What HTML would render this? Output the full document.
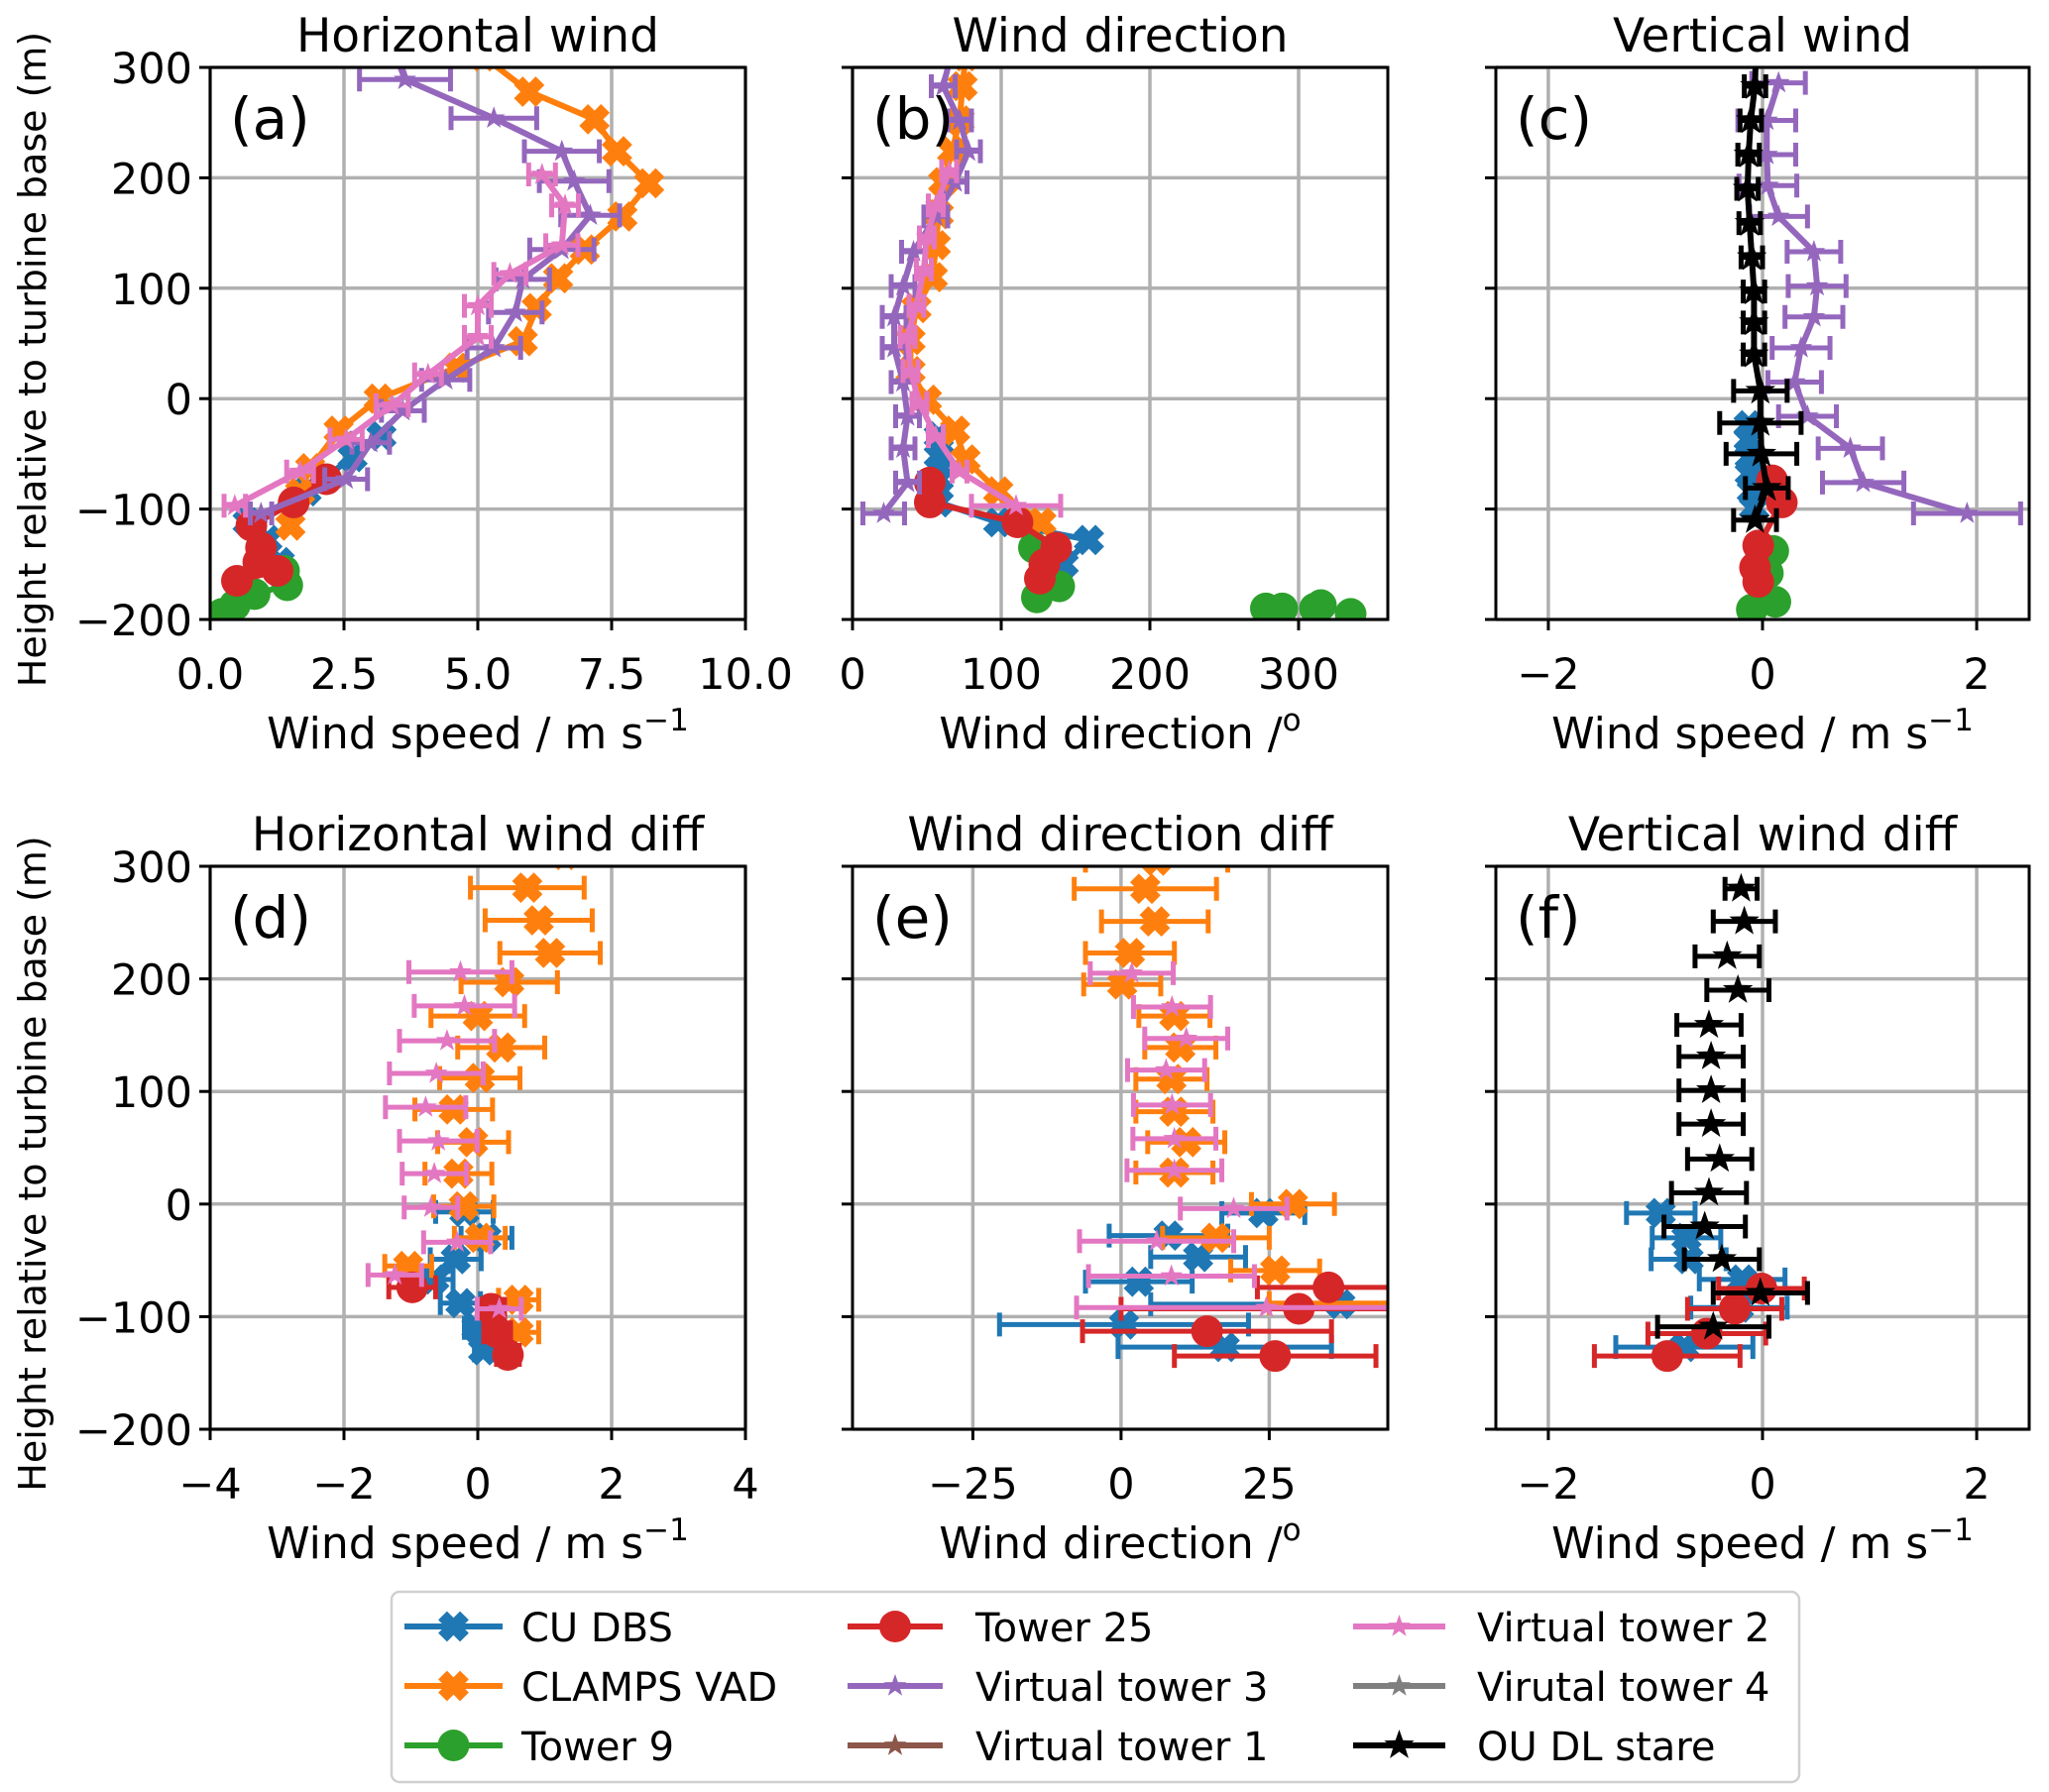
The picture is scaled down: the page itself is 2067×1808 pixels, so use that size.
<!DOCTYPE html>
<html><head><meta charset="utf-8"><style>
body{margin:0;background:#fff}
svg{display:block;font-family:"DejaVu Sans","Liberation Sans",sans-serif}
</style></head><body>
<svg id="fig" width="2067" height="1808" viewBox="0 0 2067 1808" xmlns="http://www.w3.org/2000/svg"></svg>
<script>
// ---------- data (height in m, values in panel units) ----------
const yTicks=[-200,-100,0,100,200,300];
// panel a
const a_cu_y=[-34,-53,-84,-112,-128,-148], a_cu_x=[3.2,2.66,1.8,0.7,1.07,1.3];
const a_cl_y=[310,278,253,224,195,165,135,109,82,52,28,0,-29,-63,-85,-115];
const a_cl_x=[5.1,5.96,7.18,7.6,8.2,7.7,7.0,6.5,6.1,5.84,4.6,3.15,2.4,1.87,1.68,1.5];
const a_t9_y=[-156,-169,-177,-187,-195], a_t9_x=[1.38,1.44,0.83,0.46,0.22];
const a_t25_y=[-73,-94,-115,-135,-148,-156,-165], a_t25_x=[2.17,1.56,0.77,0.95,0.9,1.26,0.5];
const a_vt3_y=[320,289,254,224,197,166,135,108,78,46,17,-11,-40,-73,-104];
const a_vt3_x=[3.4,3.64,5.3,6.57,6.8,7.1,6.57,5.84,5.7,5.3,4.4,3.6,3.0,2.54,0.95];
const a_vt3_e=[0.8,0.85,0.8,0.7,0.65,0.55,0.6,0.5,0.5,0.5,0.45,0.4,0.35,0.4,0.2];
const a_vt2_y=[203,175,139,113,84,56,22,-6,-37,-66,-97];
const a_vt2_x=[6.2,6.63,6.57,5.6,5.0,5.0,4.07,3.4,2.54,1.68,0.46];
const a_vt2_e=[0.25,0.25,0.3,0.3,0.25,0.25,0.25,0.3,0.3,0.25,0.2];
// panel b
const b_cu_y=[-34,-52,-73,-94,-112,-128,-150], b_cu_x=[58,58,58,58,98,159,142];
const b_cl_y=[310,283,252,224,196,167,139,110,82,53,25,-1,-29,-55,-84,-112];
const b_cl_x=[76,74,72,67,61,58,56,54,43,39,39,50,69,76,98,127];
const b_t9_y=[-135,-170,-180,-190,-190,-190,-187,-195], b_t9_x=[122,139,124,278,289,311,315,335];
const b_t25_y=[-76,-94,-112,-135,-150,-163], b_t25_x=[52,52,111,137,129,126];
const b_vt3_y=[310,283,252,224,196,165,133,102,74,46,15,-16,-45,-76,-104];
const b_vt3_x=[66,61,72,78,69,56,41,34,28,28,34,37,34,37,21];
const b_vt3_e=[8,8,8,8,8,8,8,8,8,8,8,8,8,8,14];
const b_vt2_y=[206,175,146,117,84,56,25,-4,-34,-66,-97];
const b_vt2_x=[65,56,50,48,43,37,39,45,56,72,110];
const b_vt2_e=[5,5,5,5,5,5,5,5,5,5,30];
// panel c
const c_cu_y=[-24,-37,-53,-68,-84,-99], c_cu_x=[-0.13,-0.13,-0.12,-0.12,-0.1,-0.08];
const c_t9_y=[-138,-158,-184,-191], c_t9_x=[0.1,0.05,0.12,-0.1];
const c_t25_y=[-74,-94,-133,-153,-166], c_t25_x=[0.09,0.18,-0.04,-0.07,-0.04];
const c_vt3_y=[286,252,221,193,165,133,102,74,46,15,-16,-45,-76,-104];
const c_vt3_x=[0.15,0.04,0.04,0.05,0.15,0.48,0.51,0.48,0.36,0.3,0.42,0.82,0.94,1.91];
const c_vt3_e=[0.25,0.27,0.27,0.27,0.27,0.25,0.27,0.27,0.27,0.25,0.27,0.3,0.38,0.5];
const c_ou_y=[320,283,252,221,190,159,128,97,69,40,7,-22,-50,-81,-110];
const c_ou_x=[-0.06,-0.07,-0.11,-0.13,-0.14,-0.12,-0.1,-0.08,-0.08,-0.08,-0.02,-0.02,-0.01,0.04,-0.07];
const c_ou_e=[0.1,0.1,0.1,0.1,0.1,0.1,0.1,0.1,0.1,0.1,0.25,0.38,0.33,0.2,0.2];
// panel d
const d_cu_y=[-7,-30,-49,-67,-88,-110,-130], d_cu_x=[-0.2,0.13,-0.33,-0.65,-0.26,-0.02,0.08];
const d_cu_e=[0.43,0.38,0.38,0.28,0.3,0.18,0.13];
const d_cl_y=[310,281,252,223,197,167,139,112,84,55,27,-2,-30,-55,-85,-114];
const d_cl_x=[1.3,0.74,0.91,1.08,0.47,0,0.35,0.03,-0.36,-0.07,-0.29,-0.21,0.03,-1.04,0.61,0.61];
const d_cl_e=[0.85,0.85,0.8,0.75,0.72,0.7,0.65,0.6,0.58,0.53,0.5,0.45,0.38,0.35,0.3,0.3];
const d_t25_y=[-74,-93,-114,-134], d_t25_x=[-0.98,0.2,0.29,0.45], d_t25_e=[0.35,0.2,0.2,0.17];
const d_vt2_y=[206,176,145,116,86,56,27,-3,-34,-63,-93];
const d_vt2_x=[-0.26,-0.2,-0.46,-0.62,-0.78,-0.59,-0.65,-0.7,-0.31,-1.24,0.32];
const d_vt2_e=[0.77,0.75,0.71,0.7,0.6,0.58,0.48,0.4,0.5,0.4,0.33];
// panel e
const e_cu_y=[-8,-28,-47,-69,-89,-107,-127], e_cu_x=[24,8,13,3,37,0.5,17.5], e_cu_e=[7,10,8,9,32,21,18];
const e_cl_y=[305,280,251,223,195,167,139,111,82,55,28,0,-30,-59,-88];
const e_cl_x=[6,4.1,5.7,1.5,0.2,9,10,8.5,9,11,9,29,16,26,55];
const e_cl_e=[12,12,9,7.5,6.5,6,6,6,6.5,6.5,6.5,7,9,7.5,30];
const e_t25_y=[-74,-93,-113,-135], e_t25_x=[35,30,14.5,26], e_t25_e=[12,30,21,17];
const e_vt2_y=[205,175,147,119,88,58,30,-4,-33,-64,-92];
const e_vt2_x=[1.8,8.6,11,7.6,8.6,9,9,19,6,8.5,24.5];
const e_vt2_e=[7,6.5,7,6.5,6.5,7,8,9,13,14,32];
// panel f
const f_cu_y=[-8,-30,-49,-67,-92,-127], f_cu_x=[-0.95,-0.71,-0.69,-0.19,-0.22,-0.73];
const f_cu_e=[0.32,0.32,0.35,0.4,0.45,0.64];
const f_t25_y=[-75,-93,-115,-135], f_t25_x=[-0.01,-0.26,-0.52,-0.89], f_t25_e=[0.4,0.44,0.55,0.68];
const f_ou_y=[280,251,220,190,159,131,101,71,40,10,-20,-49,-79,-109];
const f_ou_x=[-0.2,-0.17,-0.33,-0.23,-0.5,-0.48,-0.48,-0.48,-0.4,-0.5,-0.54,-0.38,-0.02,-0.46];
const f_ou_e=[0.15,0.29,0.3,0.29,0.3,0.3,0.3,0.3,0.3,0.35,0.38,0.35,0.44,0.52];
const legendLabels=["CU DBS","CLAMPS VAD","Tower 9","Tower 25","Virtual tower 3","Virtual tower 1","Virtual tower 2","Virutal tower 4","OU DL stare"];

// ---------- drawing ----------
const NS="http://www.w3.org/2000/svg";
const svg=document.getElementById('fig');
function mk(tag,attrs,parent){const e=document.createElementNS(NS,tag);for(const k in attrs)e.setAttribute(k,attrs[k]);(parent||svg).appendChild(e);return e;}
const COL={cu:"#1f77b4",cl:"#ff7f0e",t9:"#2ca02c",t25:"#d62728",vt3:"#9467bd",vt1:"#8c564b",vt2:"#e377c2",vt4:"#7f7f7f",ou:"#000000"};
const MK={cu:"x",cl:"x",t9:"o",t25:"o",vt3:"s",vt1:"s",vt2:"s",vt4:"s",ou:"S"};
function fmt(v,dec){const s=v.toFixed(dec);return v<0?"\u2212"+s.slice(1):s;}

function marker(g,type,cx,cy,color){
  let el;
  if(type==="o"){el=mk('circle',{cx:cx,cy:cy,r:16,fill:color},g);}
  else if(type==="x"){
    const a=13.5,w=5.4;let pts=[];
    const base=[[-w,-a],[w,-a],[w,-w],[a,-w],[a,w],[w,w],[w,a],[-w,a],[-w,w],[-a,w],[-a,-w],[-w,-w]];
    const c=Math.SQRT1_2;
    for(const[p,q] of base){pts.push((cx+(p-q)*c*1.15).toFixed(1)+","+(cy+(p+q)*c*1.15).toFixed(1));}
    el=mk('polygon',{points:pts.join(" "),fill:color},g);
  } else {
    const R=type==="S"?16:12,r=R*0.4;let pts=[];
    for(let i=0;i<10;i++){const ang=-Math.PI/2+i*Math.PI/5;const rr=i%2?r:R;pts.push((cx+rr*Math.cos(ang)).toFixed(1)+","+(cy+rr*Math.sin(ang)).toFixed(1));}
    el=mk('polygon',{points:pts.join(" "),fill:color},g);
  }
  return el;
}

function panel(id,box,xr,xticks,xdec,title,xlabel,showY){
  const [L,T,R,B]=box;
  const sx=v=>L+(v-xr[0])/(xr[1]-xr[0])*(R-L);
  const sy=v=>B-(v+200)/500*(B-T);
  const g=mk('g',{});
  
  
  const clip=mk('clipPath',{id:'clip-'+id},g);
  mk('rect',{x:L,y:T,width:R-L,height:B-T},clip);
  const grid=mk('g',{stroke:"#b0b0b0","stroke-width":3.5},g);
  
  
  for(const t of xticks){mk('line',{x1:sx(t),x2:sx(t),y1:T,y2:B},grid);}
  for(const t of yTicks){mk('line',{x1:L,x2:R,y1:sy(t),y2:sy(t)},grid);}
  const tg=mk('g',{stroke:"#000","stroke-width":3},g);
  for(const t of xticks){mk('line',{x1:sx(t),x2:sx(t),y1:B,y2:B+11},tg);}
  for(const t of yTicks){mk('line',{x1:L-11,x2:L,y1:sy(t),y2:sy(t)},tg);}
  for(const t of xticks){
    const tx=mk('text',{x:sx(t),y:B+70,"font-size":43,"text-anchor":"middle"},g);
    tx.textContent=fmt(t,xdec);
    
    
  }
  if(showY){for(const t of yTicks){
    const ty=mk('text',{x:L-18,y:sy(t)+16,"font-size":43,"text-anchor":"end"},g);
    ty.textContent=fmt(t,0);
    
    
  }
    const yl=mk('text',{x:0,y:0,"font-size":38,"text-anchor":"middle",transform:`translate(46,${(T+B)/2+16}) rotate(-90)`},g);
    yl.textContent="Height relative to turbine base (m)";
    
    
  }
  const ti=mk('text',{x:(L+R)/2,y:T-16,"font-size":47,"text-anchor":"middle"},g);
  ti.textContent=title;
  
  
  const xl=mk('text',{x:(L+R)/2,y:B+130,"font-size":44,"text-anchor":"middle"},g);
  xl.innerHTML=xlabel;
  
  
  const data=mk('g',{"clip-path":`url(#clip-${id})`},g);
  const frame=mk('rect',{x:L,y:T,width:R-L,height:B-T,fill:"none",stroke:"#000","stroke-width":3},g);
  
  
  const lt=mk('text',{x:L+20,y:T+72,"font-size":58},g);
  lt.textContent="("+id+")";
  
  
  return {sx,sy,data,frame};
}

function series(p,key,xs,ys,errs,line){
  const g=mk('g',{},p.data);
  
  
  const c=COL[key];
  if(line){
    const pts=xs.map((v,i)=>p.sx(v).toFixed(1)+","+p.sy(ys[i]).toFixed(1)).join(" ");
    mk('polyline',{points:pts,fill:"none",stroke:c,"stroke-width":6,"stroke-linejoin":"round"},g);
  }
  if(errs){
    for(let i=0;i<xs.length;i++){
      const y=p.sy(ys[i]),x1=p.sx(xs[i]-errs[i]),x2=p.sx(xs[i]+errs[i]);
      const eb=mk('path',{d:`M${x1},${y}H${x2}M${x1},${y-12}V${y+12}M${x2},${y-12}V${y+12}`,stroke:c,"stroke-width":5,fill:"none"},g);
      
      
    }
  }
  for(let i=0;i<xs.length;i++){
    const m=marker(g,MK[key],p.sx(xs[i]),p.sy(ys[i]),c);
    
    
  }
}

const WS='Wind speed / m s<tspan dy="-18" font-size="31">\u22121</tspan>';
const WD='Wind direction /<tspan dy="-18" font-size="31">o</tspan>';
const r1=[68,625], r2=[874,1442];
const cA=[212,752], cB=[860,1400], cC=[1509,2047];

const pa=panel('a',[cA[0],r1[0],cA[1],r1[1]],[0,10],[0,2.5,5,7.5,10],1,"Horizontal wind",WS,true);
series(pa,'cu',a_cu_x,a_cu_y,null,true);
series(pa,'cl',a_cl_x,a_cl_y,null,true);
series(pa,'t9',a_t9_x,a_t9_y,null,true);
series(pa,'t25',a_t25_x,a_t25_y,null,true);
series(pa,'vt3',a_vt3_x,a_vt3_y,a_vt3_e,true);
series(pa,'vt2',a_vt2_x,a_vt2_y,a_vt2_e,true);

const pb=panel('b',[cB[0],r1[0],cB[1],r1[1]],[0,360],[0,100,200,300],0,"Wind direction",WD,false);
series(pb,'cu',b_cu_x,b_cu_y,null,true);
series(pb,'cl',b_cl_x,b_cl_y,null,true);
series(pb,'t9',b_t9_x,b_t9_y,null,false);
series(pb,'t25',b_t25_x,b_t25_y,null,true);
series(pb,'vt3',b_vt3_x,b_vt3_y,b_vt3_e,true);
series(pb,'vt2',b_vt2_x,b_vt2_y,b_vt2_e,true);

const pc=panel('c',[cC[0],r1[0],cC[1],r1[1]],[-2.49,2.49],[-2,0,2],0,"Vertical wind",WS,false);
series(pc,'cu',c_cu_x,c_cu_y,null,true);
series(pc,'t9',c_t9_x,c_t9_y,null,true);
series(pc,'t25',c_t25_x,c_t25_y,null,true);
series(pc,'vt3',c_vt3_x,c_vt3_y,c_vt3_e,true);
series(pc,'ou',c_ou_x,c_ou_y,c_ou_e,true);

const pd=panel('d',[cA[0],r2[0],cA[1],r2[1]],[-4,4],[-4,-2,0,2,4],0,"Horizontal wind diff",WS,true);
series(pd,'cu',d_cu_x,d_cu_y,d_cu_e,false);
series(pd,'cl',d_cl_x,d_cl_y,d_cl_e,false);
series(pd,'t25',d_t25_x,d_t25_y,d_t25_e,false);
series(pd,'vt2',d_vt2_x,d_vt2_y,d_vt2_e,false);

const pe=panel('e',[cB[0],r2[0],cB[1],r2[1]],[-45.3,45],[-25,0,25],0,"Wind direction diff",WD,false);
series(pe,'cu',e_cu_x,e_cu_y,e_cu_e,false);
series(pe,'cl',e_cl_x,e_cl_y,e_cl_e,false);
series(pe,'t25',e_t25_x,e_t25_y,e_t25_e,false);
series(pe,'vt2',e_vt2_x,e_vt2_y,e_vt2_e,false);

const pf=panel('f',[cC[0],r2[0],cC[1],r2[1]],[-2.49,2.49],[-2,0,2],0,"Vertical wind diff",WS,false);
series(pf,'cu',f_cu_x,f_cu_y,f_cu_e,false);
series(pf,'t25',f_t25_x,f_t25_y,f_t25_e,false);
series(pf,'ou',f_ou_x,f_ou_y,f_ou_e,false);

// legend
const lg=mk('g',{});


mk('rect',{x:395,y:1606,width:1420,height:192,rx:8,fill:"#fff",stroke:"#d0d0d0","stroke-width":2.5},lg);
const keys=['cu','cl','t9','t25','vt3','vt1','vt2','vt4','ou'];
const colX=[[408,507,526],[855,951,984],[1365,1458,1490]], rowY=[1641,1701,1761];
keys.forEach((k,i)=>{
  const col=Math.floor(i/3),row=i%3,[x1,x2,tx]=colX[col],y=rowY[row];
  const e=mk('g',{},lg);
  
  
  mk('line',{x1:x1,x2:x2,y1:y,y2:y,stroke:COL[k],"stroke-width":6},e);
  marker(e,MK[k],(x1+x2)/2,y,COL[k]);
  const t=mk('text',{x:tx,y:y+15,"font-size":40},e);
  t.textContent=legendLabels[i];
});
</script>
</body></html>
